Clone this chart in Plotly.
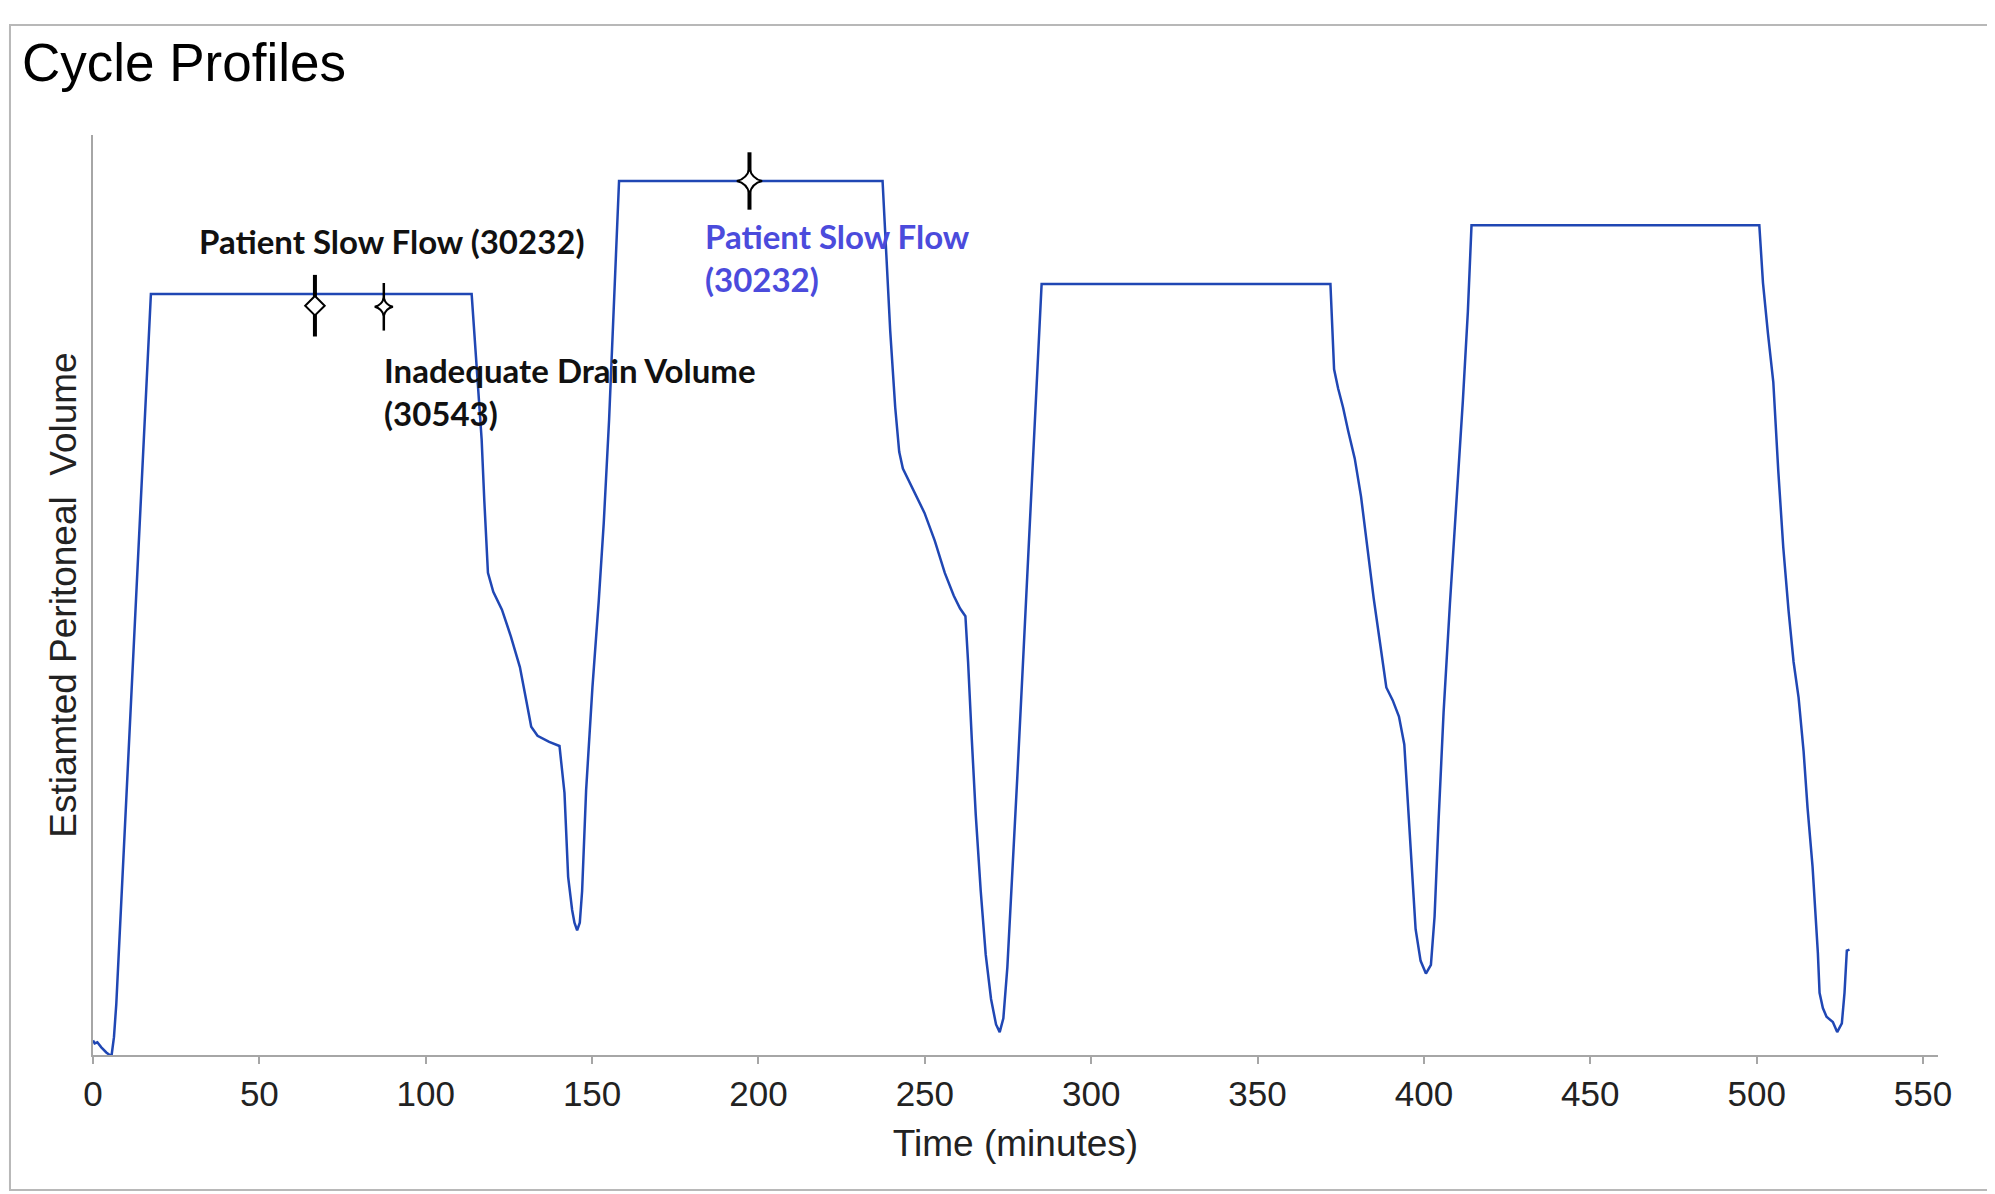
import plotly.graph_objects as go

# -------------------------------------------------
# data (time in minutes, volume in mL)
# -------------------------------------------------
time_min = [
    0.0, 0.5, 1.3, 2.5, 4.0, 5.0, 5.6, 6.0, 6.3, 7.0, 8.0, 9.0, 10.0, 11.0, 12.0,
    13.0, 14.0, 15.0, 16.0, 17.0, 17.4,
    113.8, 114.6, 115.7, 116.8, 117.6, 118.7, 120.3, 122.9, 125.6, 128.3, 130.2,
    131.7, 133.6, 137.1, 140.2, 141.7, 142.8, 144.0, 144.7, 145.5, 146.3, 147.0,
    148.2, 150.1, 152.0, 153.5, 155.1, 156.2, 157.4, 158.1,
    237.3, 238.4, 239.6, 241.1, 242.3, 243.4, 245.3, 247.2, 249.9, 253.0, 256.0,
    258.7, 260.6, 262.2, 263.0, 264.1, 265.3, 266.8, 268.3, 269.9, 271.4, 272.5,
    273.6, 274.8, 276.3, 277.8, 279.7, 281.6, 283.5, 285.1,
    371.9, 373.0, 374.2, 375.7, 377.2, 379.2, 381.1, 383.0, 384.9, 386.8, 388.7,
    390.6, 392.5, 394.1, 395.2, 396.4, 397.5, 399.0, 400.6, 402.1, 403.2, 404.4,
    405.9, 407.8, 409.8, 411.7, 413.2, 414.3,
    500.8, 501.9, 503.4, 505.0, 506.5, 508.0, 509.6, 511.1, 512.6, 514.1, 515.3,
    516.4, 516.8, 517.6, 518.4, 518.9, 519.9, 521.0, 522.9, 524.2, 525.6, 526.4,
    527.1, 527.9,
]
volume_ml = [
    40, 32, 35, 21, 7, 0, 0, 28, 49, 140, 330, 520, 700, 890, 1080,
    1270, 1460, 1650, 1840, 2020, 2093,
    2093, 1991, 1851, 1694, 1526, 1326, 1274, 1225, 1151, 1067, 976,
    903, 878, 861, 850, 721, 490, 399, 364, 343, 364, 451,
    728, 1011, 1249, 1463, 1746, 1991, 2236, 2404,
    2404, 2201, 1991, 1781, 1659, 1613, 1578, 1543, 1491, 1414, 1326,
    1263, 1228, 1207, 1081, 871, 661, 451, 276, 154, 84, 63,
    101, 241, 486, 766, 1116, 1466, 1851, 2121,
    2121, 1886, 1834, 1781, 1718, 1641, 1536, 1396, 1256, 1134, 1011,
    976, 931, 854, 679, 486, 346, 259, 224, 248, 381, 644,
    941, 1239, 1519, 1799, 2044, 2282,
    2282, 2124, 1984, 1851, 1606, 1396, 1221, 1081, 983, 836, 679,
    563, 518, 399, 280, 171, 129, 105, 91, 63, 87, 171,
    287, 290,
]

# alarm markers
alarm_times = [66.7, 87.4, 197.3]
alarm_volumes = [2061, 2058, 2404]

# alarm labels
label_texts = [
    "Patient Slow Flow (30232)",
    "Inadequate Drain Volume<br>(30543)",
    "Patient Slow Flow<br>(30232)",
]
label_times = [31.2, 87.0, 183.4]
label_volumes = [2240, 1825, 2193]
label_colors = ["#111111", "#111111", "#4b4bdc"]

x_ticks = [0, 50, 100, 150, 200, 250, 300, 350, 400, 450, 500, 550]

# -------------------------------------------------
fig = go.Figure()

fig.add_trace(go.Scatter(
    x=time_min, y=volume_ml, mode="lines",
    line=dict(color="#2047b4", width=2.5),
    hoverinfo="skip",
))

# vertical bars behind the alarm symbols (line-ns draws 1.4 x size)
bar_sizes = [44, 34, 41]
bar_widths = [4, 2.5, 4]
for t, v, s, w in zip(alarm_times, alarm_volumes, bar_sizes, bar_widths):
    fig.add_trace(go.Scatter(
        x=[t], y=[v], mode="markers",
        marker=dict(symbol="line-ns", size=s, line=dict(color="black", width=w)),
    ))

sym = ["diamond", "star-diamond", "star-diamond"]
sym_size = [15, 13, 18]
for t, v, s, sz in zip(alarm_times, alarm_volumes, sym, sym_size):
    fig.add_trace(go.Scatter(
        x=[t], y=[v], mode="markers",
        marker=dict(symbol=s, size=sz, color="white",
                    line=dict(color="black", width=2)),
    ))

for txt, t, v, c in zip(label_texts, label_times, label_volumes, label_colors):
    fig.add_annotation(
        x=t, y=v, text="<b>" + txt + "</b>", showarrow=False,
        xanchor="left", yanchor="middle", align="left",
        font=dict(family="Lato", size=33, color=c),
    )

# outer frame (page offset of 8 px is taken off the margins)
fig.add_shape(type="rect", xref="paper", yref="paper",
              x0=-0.0450, x1=1.04, y0=-0.1467, y1=1.1196,
              line=dict(color="#b8b8b8", width=2), layer="below")

fig.update_layout(
    width=1987, height=1186,
    paper_bgcolor="white", plot_bgcolor="white",
    margin=dict(l=85, r=57, t=127, b=139),
    showlegend=False,
    title=dict(
        text="Cycle Profiles", xref="container", yref="container",
        x=14 / 1987, xanchor="left", y=1 - 54 / 1186, yanchor="middle",
        font=dict(family="Arial, Liberation Sans", size=53, color="black"),
    ),
    font=dict(family="Arial, Liberation Sans", color="#222222"),
    xaxis=dict(
        range=[0, 554.5], tickvals=x_ticks, showgrid=False, zeroline=False,
        showline=True, linecolor="#a6a6a6", linewidth=2,
        ticks="outside", ticklen=7, tickcolor="#a6a6a6", tickwidth=2,
        tickfont=dict(size=35, color="#222222"),
        title=dict(text="Time (minutes)", font=dict(size=37), standoff=18),
    ),
    yaxis=dict(
        range=[0, 2530.5], showgrid=False, zeroline=False,
        showline=True, linecolor="#a6a6a6", linewidth=2,
        showticklabels=False, ticks="",
        title=dict(text="Estiamted Peritoneal\u00a0 Volume", font=dict(size=37),
                   standoff=3),
    ),
)

fig.write_html("out.html")
